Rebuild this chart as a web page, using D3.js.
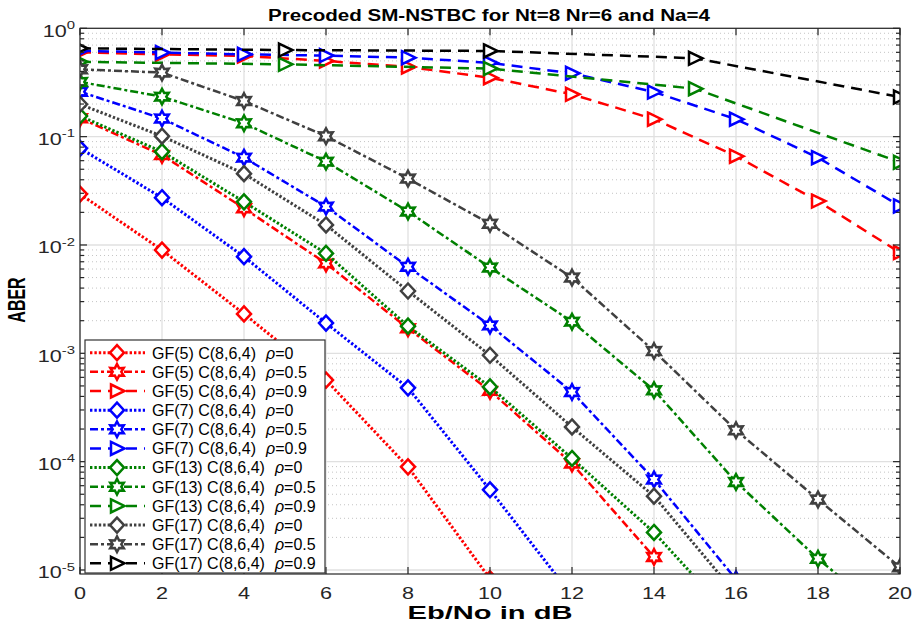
<!DOCTYPE html>
<html><head><meta charset="utf-8">
<script src="https://cdn.jsdelivr.net/npm/d3@7"></script>
<style>body{margin:0;background:#fff}svg{display:block}text{font-family:"Liberation Sans",Arial,sans-serif}</style>
</head><body><svg id="c" width="912" height="626"></svg>
<script>
// ---------- data ----------
const snrStep2 = [0,2,4,6,8,10,12,14,16,18,20];
const snrStep5 = [0,5,10,15,20];
const xTicks = [0,2,4,6,8,10,12,14,16,18,20];
const yTickExp = [0,-1,-2,-3,-4,-5];

const gf5_r0   = [0.0295,0.00897,0.00231,5.66e-4,8.95e-5,8.3e-6];
const gf5_r05  = [0.148,0.0676,0.0218,0.00676,0.0017,4.5e-4,9.6e-5,1.32e-5];
const gf5_r09  = [0.60,0.575,0.555,0.50,0.44,0.35,0.246,0.145,0.066,0.0254,0.0085];
const gf7_r0   = [0.078,0.0273,0.0078,0.0019,4.8e-4,5.5e-5,5.8e-6];
const gf7_r05  = [0.26,0.147,0.064,0.0226,0.0063,0.00181,4.4e-4,6.85e-5,8.2e-6];
const gf7_r09  = [0.62,0.597,0.575,0.56,0.536,0.48,0.384,0.258,0.145,0.064,0.0229];
const gf13_r0  = [0.155,0.0726,0.025,0.00836,0.00178,4.9e-4,1.07e-4,2.22e-5,3.3e-6];
const gf13_r05 = [0.32,0.234,0.133,0.0588,0.0204,0.0062,0.00196,4.57e-4,6.5e-5,1.27e-5,3e-6];
const gf13_r09 = [0.49,0.465,0.425,0.277,0.058];
const gf17_r0  = [0.199,0.101,0.0455,0.0153,0.00376,9.6e-4,2.09e-4,4.8e-5,6e-6];
const gf17_r05 = [0.418,0.39,0.213,0.101,0.041,0.0157,0.005,0.00105,1.95e-4,4.48e-5,1.06e-5];
const gf17_r09 = [0.653,0.63,0.618,0.529,0.232];

const labels = ["GF(5) C(8,6,4)","GF(7) C(8,6,4)","GF(13) C(8,6,4)","GF(17) C(8,6,4)"];
const rhos = ["0","0.5","0.9"];
const colors = ["#ff0000","#0000ff","#008000","#404040"];

const series = [
 {g:0,r:0,x:snrStep2,y:gf5_r0},{g:0,r:1,x:snrStep2,y:gf5_r05},{g:0,r:2,x:snrStep2,y:gf5_r09},
 {g:1,r:0,x:snrStep2,y:gf7_r0},{g:1,r:1,x:snrStep2,y:gf7_r05},{g:1,r:2,x:snrStep2,y:gf7_r09},
 {g:2,r:0,x:snrStep2,y:gf13_r0},{g:2,r:1,x:snrStep2,y:gf13_r05},{g:2,r:2,x:snrStep5,y:gf13_r09},
 {g:3,r:0,x:snrStep2,y:gf17_r0},{g:3,r:1,x:snrStep2,y:gf17_r05},{g:3,r:2,x:snrStep5,y:gf17_r09,black:true}
];

// ---------- layout ----------
const L=80,R=900,T=28.3,B=574;
const svg=d3.select("#c");
const x=d3.scaleLinear().domain([0,20]).range([L,R]);
const y=d3.scaleLog().domain([Math.pow(10,-5.037),1]).range([B,T]);
const axisCol="#262626";

// grid
const minorVals=[];
for(let e=-6;e<0;e++) for(let m=2;m<=9;m++){const v=m*Math.pow(10,e); if(v>=y.domain()[0]&&v<=1) minorVals.push(v);}
const grid=svg.append("g");
grid.selectAll(".mg").data(minorVals).enter().append("line")
 .attr("x1",L).attr("x2",R).attr("y1",d=>y(d)).attr("y2",d=>y(d))
 .attr("stroke","#c4c4c4").attr("stroke-width",1).attr("stroke-dasharray","1,3");
grid.selectAll(".gy").data(yTickExp).enter().append("line")
 .attr("x1",L).attr("x2",R).attr("y1",d=>y(Math.pow(10,d))).attr("y2",d=>y(Math.pow(10,d)))
 .attr("stroke","#e0e0e0").attr("stroke-width",1.3);
grid.selectAll(".gx").data(xTicks).enter().append("line")
 .attr("y1",T).attr("y2",B).attr("x1",d=>x(d)).attr("x2",d=>x(d))
 .attr("stroke","#e0e0e0").attr("stroke-width",1.3);

// clip
svg.append("clipPath").attr("id","clip").append("rect").attr("x",L).attr("y",T).attr("width",R-L).attr("height",B-T);

const dash=["2.4,2","8,3,3,3","11,7"];
const lw=[3,2.5,2.5];

function markerPath(r){
 if(r===0) return "M0,-7.5L7,0L0,7.5L-7,0Z";
 if(r===2) return "M-6,-6.5L7.5,0L-6,6.5Z";
 let p=[];
 for(let i=0;i<12;i++){const a=-Math.PI/2+i*Math.PI/6; const rr=i%2?4.3:7.8; p.push([rr*Math.cos(a),rr*Math.sin(a)]);}
 return "M"+p.map(q=>q[0].toFixed(2)+","+q[1].toFixed(2)).join("L")+"Z";
}

const plot=svg.append("g").attr("clip-path","url(#clip)");
const line=d3.line().x(d=>x(d[0])).y(d=>y(d[1]));
series.forEach(s=>{
 const col=s.black?"#000":colors[s.g];
 const pts=s.x.slice(0,s.y.length).map((v,i)=>[v,s.y[i]]);
 plot.append("path").attr("d",line(pts)).attr("fill","none").attr("stroke",col)
  .attr("stroke-width",lw[s.r]).attr("stroke-dasharray",dash[s.r]);
 plot.selectAll(null).data(pts).enter().append("path")
  .attr("transform",d=>`translate(${x(d[0])},${y(d[1])})`)
  .attr("d",markerPath(s.r)).attr("fill","#fff").attr("stroke",col).attr("stroke-width",2.5);
});

// axes box & ticks
const ax=svg.append("g").attr("stroke",axisCol).attr("stroke-width",1.2);
ax.append("rect").attr("x",L).attr("y",T).attr("width",R-L).attr("height",B-T).attr("fill","none");
xTicks.forEach(t=>{
 ax.append("line").attr("x1",x(t)).attr("x2",x(t)).attr("y1",B).attr("y2",B-7);
 ax.append("line").attr("x1",x(t)).attr("x2",x(t)).attr("y1",T).attr("y2",T+7);
});
yTickExp.forEach(e=>{const yy=y(Math.pow(10,e));
 ax.append("line").attr("x1",L).attr("x2",L+7).attr("y1",yy).attr("y2",yy);
 ax.append("line").attr("x1",R).attr("x2",R-7).attr("y1",yy).attr("y2",yy);
});
minorVals.forEach(v=>{const yy=y(v);
 ax.append("line").attr("x1",L).attr("x2",L+4).attr("y1",yy).attr("y2",yy);
 ax.append("line").attr("x1",R).attr("x2",R-4).attr("y1",yy).attr("y2",yy);
});

// tick labels
const SX=1.35;
xTicks.forEach(t=>{
 svg.append("text").attr("transform",`translate(${x(t)},599) scale(${SX},1)`)
  .attr("text-anchor","middle").attr("font-size",16).attr("fill",axisCol).text(t);
});
yTickExp.forEach(e=>{
 const yy=y(Math.pow(10,e));
 const tx=svg.append("text").attr("transform",`translate(75,${yy+8.3}) scale(${SX},1)`)
  .attr("text-anchor","end").attr("font-size",16).attr("fill",axisCol);
 tx.append("tspan").text("10");
 tx.append("tspan").attr("font-size",11).attr("dy",-7.5).text(e===0?"0":String(e));
});

// titles
svg.append("text").attr("x",489).attr("y",20.7).attr("text-anchor","middle")
 .attr("font-size",16).attr("font-weight","bold").attr("fill","#000")
 .attr("textLength",442).attr("lengthAdjust","spacingAndGlyphs")
 .text("Precoded SM-NSTBC for Nt=8 Nr=6 and Na=4");
svg.append("text").attr("x",490).attr("y",619).attr("text-anchor","middle")
 .attr("font-size",19).attr("font-weight","bold").attr("fill","#000")
 .attr("textLength",165).attr("lengthAdjust","spacingAndGlyphs").text("Eb/No in dB");
svg.append("text").attr("transform",`translate(24.5,300) scale(1.45,1) rotate(-90)`).attr("text-anchor","middle")
 .attr("font-size",16).attr("font-weight","bold").attr("fill","#000").text("ABER");

// legend
const lg=svg.append("g");
lg.append("rect").attr("x",85).attr("y",340).attr("width",240).attr("height",233)
 .attr("fill","#fff").attr("stroke","#333").attr("stroke-width",1.2);
series.forEach((s,i)=>{
 const yy=352.7+i*19.15;
 const col=s.black?"#000":colors[s.g];
 lg.append("line").attr("x1",90).attr("x2",145).attr("y1",yy).attr("y2",yy)
  .attr("stroke",col).attr("stroke-width",lw[s.r]).attr("stroke-dasharray",dash[s.r]);
 lg.append("path").attr("transform",`translate(117,${yy})`).attr("d",markerPath(s.r))
  .attr("fill","#fff").attr("stroke",col).attr("stroke-width",2.5);
 const t=lg.append("text").attr("x",152).attr("y",yy+5.8).attr("font-size",16).attr("fill","#000");
 t.append("tspan").text(labels[s.g]);
 t.append("tspan").attr("dx",10).attr("font-style","italic").text("ρ");
 t.append("tspan").text("="+rhos[s.r]);
});
</script></body></html>
